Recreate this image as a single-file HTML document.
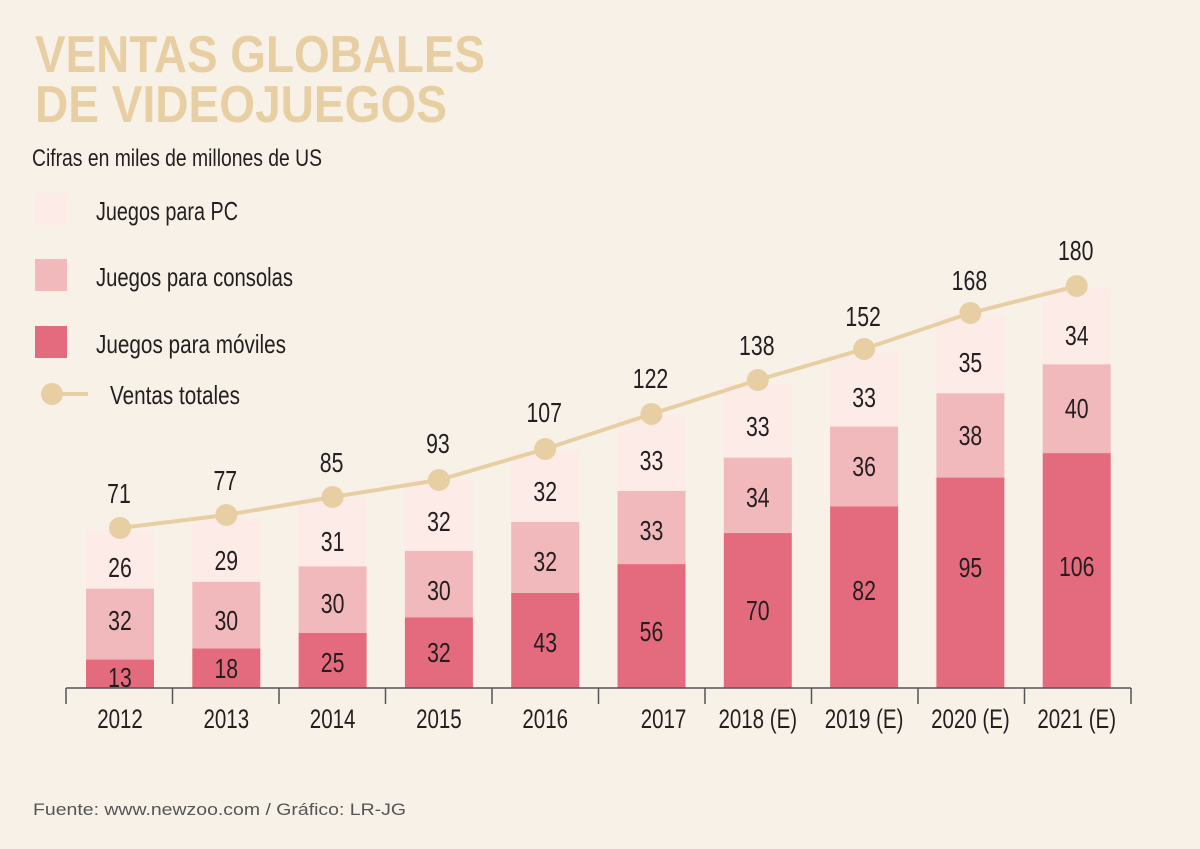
<!DOCTYPE html>
<html><head><meta charset="utf-8"><style>
html,body{margin:0;padding:0;background:#f8f1e8;}
svg{display:block}
.t{font-family:"Liberation Sans",sans-serif;fill:#231f20}
</style></head><body>
<svg id="s" width="1200" height="849" viewBox="0 0 1200 849" xmlns="http://www.w3.org/2000/svg">
<rect width="1200" height="849" fill="#f8f1e8"/>
<text x="35" y="72" font-family="Liberation Sans, sans-serif" font-weight="bold" font-size="52" fill="#e8cfa3" textLength="450" lengthAdjust="spacingAndGlyphs">VENTAS GLOBALES</text>
<text x="35" y="122" font-family="Liberation Sans, sans-serif" font-weight="bold" font-size="52" fill="#e8cfa3" textLength="412" lengthAdjust="spacingAndGlyphs">DE VIDEOJUEGOS</text>
<text class="t" x="32" y="166" font-size="24" textLength="290" lengthAdjust="spacingAndGlyphs">Cifras en miles de millones de US</text>
<rect x="35" y="193" width="32" height="32" fill="#fdebe8"/>
<rect x="35" y="259" width="32" height="32" fill="#f2b9bd"/>
<rect x="35" y="326" width="32" height="32" fill="#e46b7e"/>
<text class="t" x="96" y="220" font-size="26" textLength="142" lengthAdjust="spacingAndGlyphs">Juegos para PC</text>
<text class="t" x="96" y="286" font-size="26" textLength="197" lengthAdjust="spacingAndGlyphs">Juegos para consolas</text>
<text class="t" x="96" y="353" font-size="26" textLength="190" lengthAdjust="spacingAndGlyphs">Juegos para móviles</text>
<line x1="50" y1="394" x2="88" y2="394" stroke="#e8cfa3" stroke-width="4"/>
<circle cx="52" cy="394" r="11" fill="#e8cfa3"/>
<text class="t" x="110" y="404" font-size="26" textLength="130" lengthAdjust="spacingAndGlyphs">Ventas totales</text>
<g id="g"></g>
<text x="33" y="815" font-family="Liberation Sans, sans-serif" font-size="17" fill="#555" textLength="373" lengthAdjust="spacingAndGlyphs">Fuente: www.newzoo.com / Gráfico: LR-JG</text>
</svg>
<script>
var d=[[13,32,26,71,677,620,567,493],[18,30,29,77,668,620,560,480],[25,30,31,85,662,603,541,462],[32,30,32,93,652,590,521,443],[43,32,32,107,642,561,491,412],[56,33,33,122,631,530,460,378],[70,34,33,138,610,497,426,345],[82,36,33,152,590,466,397,316],[95,38,35,168,567,435,362,280],[106,40,34,180,566,408,335,250]];
var yrs=["2012","2013","2014","2015","2016","2017","2018 (E)","2019 (E)","2020 (E)","2021 (E)"];
var cy=[528,515,497,480,449,414,380,349,313,286];
function T(x,y,str,fs){return '<text class="t" transform="translate('+x+','+y+') scale(0.76,1)" x="0" y="0" font-size="'+fs+'" text-anchor="middle">'+str+'</text>';}
var s="",k=2.22,B=688,pts=[];
d.forEach(function(r,i){var x=86+i*106.3,c=x+34,y=B;
var cols=["#e46b7e","#f2b9bd","#fdebe8"];
for(var j=0;j<3;j++){var h=r[j]*k;y-=h;s+='<rect x="'+x+'" y="'+y+'" width="68" height="'+(h+0.5)+'" fill="'+cols[j]+'"/>';}
for(var j=0;j<3;j++)s+=T(c,r[4+j]+10,r[j],28);
s+=T(c-1,r[7]+10,r[3],28);
s+=T(c+(i==5?12:0),728,yrs[i],27);
pts.push(c+','+cy[i]);});
s+='<polyline points="'+pts.join(' ')+'" fill="none" stroke="#e8cfa3" stroke-width="4"/>';
pts.forEach(function(p){var a=p.split(',');s+='<circle cx="'+a[0]+'" cy="'+a[1]+'" r="11" fill="#e8cfa3"/>';});
s+='<line x1="66" y1="688" x2="1131" y2="688" stroke="#555" stroke-width="1.5"/>';
for(var i=0;i<=10;i++){var x=66+i*106.5;s+='<line x1="'+x+'" y1="688" x2="'+x+'" y2="704" stroke="#555" stroke-width="1.5"/>';}
document.getElementById("g").innerHTML=s;
</script>
</body></html>
